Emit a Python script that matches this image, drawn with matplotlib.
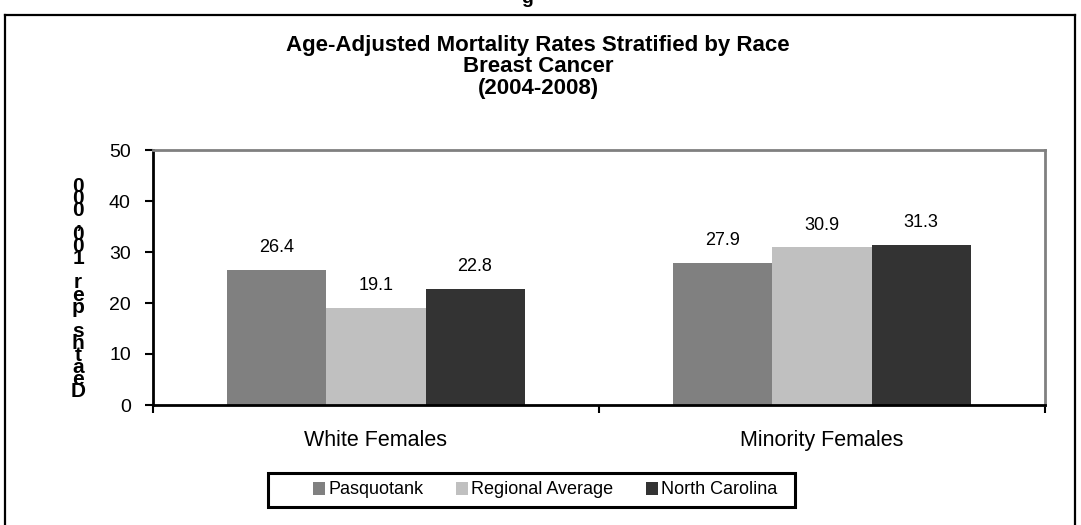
import matplotlib

matplotlib.use("Agg")
import matplotlib.pyplot as plt  # noqa: E402
from matplotlib.lines import Line2D  # noqa: E402
from matplotlib.patches import Patch, Rectangle  # noqa: E402
import numpy as np  # noqa: E402

groups = ["White Females", "Minority Females"]
series = ["Pasquotank", "Regional Average", "North Carolina"]
values = {
    "Pasquotank": [26.4, 27.9],
    "Regional Average": [19.1, 30.9],
    "North Carolina": [22.8, 31.3],
}
colors = {"Pasquotank": "#808080", "Regional Average": "#c0c0c0", "North Carolina": "#333333"}
yticks = [0, 10, 20, 30, 40, 50]
title = "Age-Adjusted Mortality Rates Stratified by Race\nBreast Cancer\n(2004-2008)"
ylabel = "Deaths per 100,000"

plt.rcParams["font.family"] = ["Liberation Sans", "DejaVu Sans"]

W, H = 1081, 525
fig = plt.figure(figsize=(W / 100, H / 100), dpi=100)


def fx(px):
    return px / W


def fy(py):
    return 1 - py / H


# outer frame (bottom edge runs off the picture)
for xs, ys in (([5, 1075], [15, 15]), ([5, 5], [15, 530]), ([1075, 1075], [15, 530])):
    fig.add_artist(Line2D([fx(x) for x in xs], [fy(y) for y in ys], color="black", lw=1.6))

# cut-off heading above the frame
fig.text(fx(527), fy(3), "g", ha="center", va="baseline", fontsize=14, fontweight="bold")

ax = fig.add_axes([fx(153), fy(405), fx(1045 - 153), (405 - 150) / H])
x = np.arange(len(groups))
bw = 0.222
for i, s in enumerate(series):
    bars = ax.bar(x + (i - 1) * bw, values[s], bw, color=colors[s], zorder=2)
    for b, v in zip(bars, values[s]):
        ax.annotate(f"{v:.1f}", (b.get_x() + b.get_width() / 2, v), xytext=(0, 10),
                    textcoords="offset points", ha="center", va="bottom", fontsize=13)

ax.set_xlim(-0.5, len(groups) - 0.5)
ax.set_ylim(0, 50)
ax.set_yticks(yticks)
ax.tick_params(axis="y", labelsize=14, length=6, width=1.5, pad=10, direction="out")
ax.set_xticks(x)
ax.set_xticklabels(groups, fontsize=15.5)
ax.tick_params(axis="x", length=0, pad=18)
ax.set_xticks([-0.5, 0.5, 1.5], minor=True)
ax.tick_params(axis="x", which="minor", length=6, width=1.5, direction="out")
for side in ("left", "bottom"):
    ax.spines[side].set_color("black")
    ax.spines[side].set_linewidth(2)
for side in ("top", "right"):
    ax.spines[side].set_color("#808080")
    ax.spines[side].set_linewidth(2)

fig.text(fx(538), fy(67), title, ha="center", va="center", fontsize=16, fontweight="bold",
         linespacing=1.05)

# vertically stacked axis title, as in the source
fig.text(fx(78), fy(289), "\n".join(reversed(ylabel)), ha="center", va="center",
         fontsize=15, fontweight="bold", linespacing=0.535)

# legend: box drawn on its own, entries placed inside it
fig.add_artist(Rectangle((fx(268), fy(507)), fx(795 - 268), (507 - 473) / H,
                         facecolor="none", edgecolor="black", lw=2.2))
handles = [Patch(facecolor=colors[s], edgecolor="none", label=s) for s in series]
fig.legend(handles=handles, loc="center", bbox_to_anchor=(fx(545), fy(490)), ncol=3,
           fontsize=13, frameon=False, handlelength=0.7, handleheight=0.7,
           handletextpad=0.15, columnspacing=1.8, borderpad=0, borderaxespad=0)

fig.savefig("out.png", dpi=100)
